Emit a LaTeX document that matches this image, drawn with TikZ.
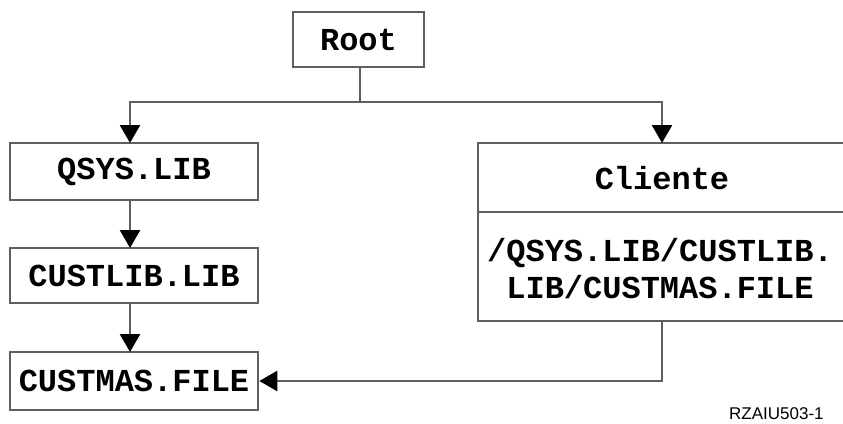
\documentclass[tikz,border=0pt]{standalone}
\usepackage{fontspec}
\setmonofont{Liberation Mono}
\newfontfamily\labelfont{Liberation Sans}
\usetikzlibrary{arrows.meta}
\definecolor{linec}{RGB}{95,95,95}
\tikzset{
  box/.style={draw=linec, line width=2.6pt, fill=white, inner sep=0pt, font=\ttfamily\bfseries\fontsize{32}{37}\selectfont},
  conn/.style={draw=linec, line width=2.6pt, -{Triangle[length=18pt,width=20pt,color=black]}},
  plain/.style={draw=linec, line width=2.6pt},
  txt/.style={inner sep=0pt, font=\ttfamily\bfseries\fontsize{32}{37}\selectfont, align=center}
}
\begin{document}
\begin{tikzpicture}[x=1pt,y=-1pt]
\useasboundingbox (0,0) rectangle (843,423);
\clip (0,0) rectangle (843,423);
\node[box, minimum width=131pt, minimum height=55pt] (root) at (358.5,39.5) {Root};
\node[box, minimum width=248pt, minimum height=57pt] (qsys) at (134,171.5) {QSYS.LIB};
\node[box, minimum width=248pt, minimum height=55pt] (custlib) at (134,275.5) {CUSTLIB.LIB};
\node[box, minimum width=248pt, minimum height=58pt] (custmas) at (134,381) {CUSTMAS.FILE};
\node[box, minimum width=376pt, minimum height=178pt] (cliente) at (666,232) {};
\draw[plain] (cliente.west |- 0,212) -- (cliente.east |- 0,212);
\node[txt] (ctitle) at (662,178) {Cliente};
\node[txt] (cpath) at (660,269) {/QSYS.LIB/CUSTLIB.\\LIB/CUSTMAS.FILE};
\coordinate (split) at (360,102);
\draw[plain] (root.south -| split) -- (split);
\draw[conn] (split) -| (130,143);
\draw[conn] (split) -| (662,143);
\draw[conn] (130,200) -- (130,248);
\draw[conn] (130,303) -- (130,352);
\draw[conn] (662,321) |- (custmas.east);
\node[inner sep=0pt, anchor=south west, font=\labelfont\fontsize{17}{19}\selectfont] (code) at (729,420) {RZAIU503-1};
\end{tikzpicture}
\end{document}
